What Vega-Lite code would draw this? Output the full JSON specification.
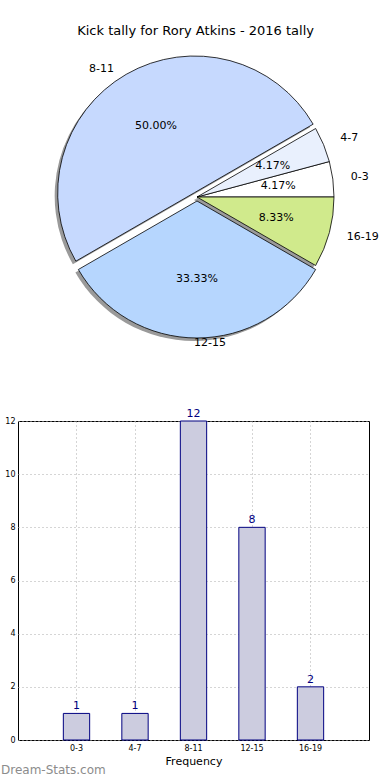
{
  "$schema": "https://vega.github.io/schema/vega-lite/v6.json",
  "padding": {"left": 0, "top": 25, "right": 0, "bottom": 0},
  "config": {"font": "DejaVu Sans", "view": {"stroke": null}},
  "title": {"text": "Kick tally for Rory Atkins - 2016 tally", "fontSize": 13, "fontWeight": "normal", "color": "#000000", "anchor": "middle", "offset": 9, "dx": 6},
  "data": {"values": [
    {"range": "0-3", "count": 1, "pct": "4.17%"},
    {"range": "4-7", "count": 1, "pct": "4.17%"},
    {"range": "8-11", "count": 12, "pct": "50.00%"},
    {"range": "12-15", "count": 8, "pct": "33.33%"},
    {"range": "16-19", "count": 2, "pct": "8.33%"}
  ]},
  "spacing": 49,
  "vconcat": [
    {
      "width": 358,
      "height": 300,
      "view": {"stroke": null},
      "transform": [{"window": [{"op": "row_number", "as": "i"}]}],
      "encoding": {
        "theta": {"field": "count", "type": "quantitative", "stack": true, "scale": {"range": [1.5707963, -4.712389]}},
        "order": {"field": "i", "type": "quantitative"}
      },
      "layer": [
        {"mark": {"type": "arc", "outerRadius": 137, "fill": "#9a9a9a", "xOffset": -3, "yOffset": 3},
         "encoding": {"opacity": {"condition": {"test": "datum.range !== '8-11' && datum.range !== '12-15'", "value": 1}, "value": 0}}},
        {"mark": {"type": "arc", "outerRadius": 137, "fill": "#9a9a9a", "xOffset": -5.5, "yOffset": -1.3},
         "encoding": {"opacity": {"condition": {"test": "datum.range === '8-11'", "value": 1}, "value": 0}}},
        {"mark": {"type": "arc", "outerRadius": 137, "fill": "#9a9a9a", "xOffset": -3, "yOffset": 7},
         "encoding": {"opacity": {"condition": {"test": "datum.range === '12-15'", "value": 1}, "value": 0}}},
        {"mark": {"type": "arc", "outerRadius": 137, "stroke": "#000000", "strokeWidth": 0.8},
         "encoding": {
           "fill": {"field": "range", "type": "nominal", "legend": null, "scale": {"domain": ["0-3", "4-7", "8-11", "12-15", "16-19"], "range": ["#ffffff", "#e9f0fd", "#c6d9fe", "#b6d6fe", "#d0ea8c"]}},
           "opacity": {"condition": {"test": "datum.range !== '8-11' && datum.range !== '12-15'", "value": 1}, "value": 0}}},
        {"mark": {"type": "arc", "outerRadius": 137, "stroke": "#000000", "strokeWidth": 0.8, "xOffset": -2.5, "yOffset": -4.3},
         "encoding": {
           "fill": {"field": "range", "type": "nominal", "legend": null},
           "opacity": {"condition": {"test": "datum.range === '8-11'", "value": 1}, "value": 0}}},
        {"mark": {"type": "arc", "outerRadius": 137, "stroke": "#000000", "strokeWidth": 0.8, "yOffset": 4},
         "encoding": {
           "fill": {"field": "range", "type": "nominal", "legend": null},
           "opacity": {"condition": {"test": "datum.range === '12-15'", "value": 1}, "value": 0}}},
        {"mark": {"type": "text", "radius": 82, "fontSize": 11, "color": "#000000", "align": "center", "baseline": "middle"},
         "encoding": {"text": {"field": "pct"}}},
        {"mark": {"type": "text", "radius": 155, "fontSize": 11, "color": "#000000", "align": "left", "baseline": "middle"},
         "encoding": {"text": {"field": "range"},
           "opacity": {"condition": {"test": "datum.range === '0-3' || datum.range === '4-7' || datum.range === '16-19'", "value": 1}, "value": 0}}},
        {"mark": {"type": "text", "radius": 152, "fontSize": 11, "color": "#000000", "align": "right", "baseline": "middle", "dx": -7, "dy": 4},
         "encoding": {"text": {"field": "range"},
           "opacity": {"condition": {"test": "datum.range === '8-11'", "value": 1}, "value": 0}}},
        {"mark": {"type": "text", "radius": 142, "fontSize": 11, "color": "#000000", "align": "left", "baseline": "middle", "dx": -3, "dy": 4},
         "encoding": {"text": {"field": "range"},
           "opacity": {"condition": {"test": "datum.range === '12-15'", "value": 1}, "value": 0}}}
      ]
    },
    {
      "width": 351,
      "height": 319,
      "view": {"stroke": "#000000", "strokeWidth": 1},
      "title": {"text": "Dream-Stats.com", "orient": "bottom", "anchor": "start", "frame": "bounds", "fontSize": 12, "fontWeight": "normal", "color": "#8c8c8c", "offset": -1},
      "encoding": {
        "x": {"field": "range", "type": "nominal", "sort": null,
              "scale": {"paddingInner": 0.55, "paddingOuter": 0.775},
              "axis": {"title": "Frequency", "titleFontSize": 11, "titleFontWeight": "normal", "titleColor": "#000000", "titlePadding": 3,
                       "labelFontSize": 8, "labelColor": "#000000", "labelAngle": 0, "ticks": false, "tickSize": 0, "labelPadding": 4, "domain": false,
                       "grid": true, "gridDash": [1, 3], "gridColor": "#aaaaaa"}},
        "y": {"field": "count", "type": "quantitative", "scale": {"domain": [0, 12]},
              "axis": {"title": null, "values": [0, 2, 4, 6, 8, 10, 12], "labelFontSize": 8, "labelColor": "#000000", "ticks": false, "tickSize": 0,
                       "labelPadding": 3, "domain": false, "labelFlush": false, "labelOverlap": false, "minExtent": 17, "maxExtent": 17,
                       "grid": true, "gridDash": [1, 3], "gridColor": "#aaaaaa"}}
      },
      "layer": [
        {"mark": {"type": "bar", "fill": "#ccccdf", "stroke": "#000080", "strokeWidth": 1}},
        {"mark": {"type": "text", "color": "#000080", "fontSize": 11, "baseline": "bottom", "dy": -2},
         "encoding": {"text": {"field": "count"}}}
      ]
    }
  ]
}
